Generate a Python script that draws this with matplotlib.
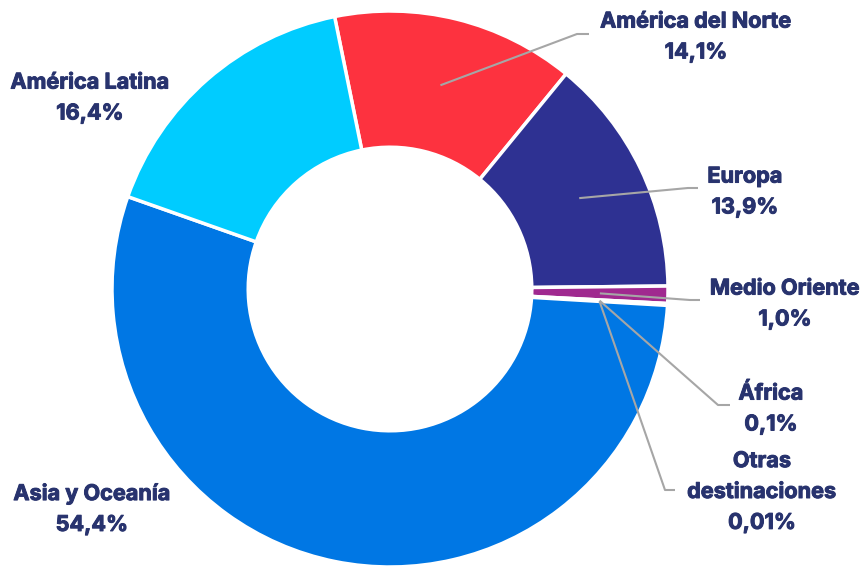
import matplotlib
matplotlib.use("Agg")
import matplotlib.pyplot as plt
import matplotlib.patheffects as pe
import numpy as np

# Data (clockwise order starting at the América Latina / América del Norte boundary)
categories = ["América del Norte", "Europa", "Medio Oriente", "África",
              "Otras\ndestinaciones", "Asia y Oceanía", "América Latina"]
values = [14.1, 13.9, 1.0, 0.1, 0.01, 54.4, 16.4]
value_labels = ["14,1%", "13,9%", "1,0%", "0,1%", "0,01%", "54,4%", "16,4%"]
colors = ["#FD323F", "#2E3192", "#A0298F", "#7A3C9A", "#5A50A0", "#0077E4", "#00CCFF"]

W, H = 865, 567
fig = plt.figure(figsize=(W / 100, H / 100), dpi=100)
ax = fig.add_axes([0, 0, 1, 1])

cx, cy = 390, H - 289
R = 278
ring = 0.49

wedges, _ = ax.pie(values, colors=colors, startangle=101.5, counterclock=False,
                   radius=R, center=(cx, cy),
                   wedgeprops=dict(width=R * ring, edgecolor="white", linewidth=2.5))
ax.set_xlim(0, W)
ax.set_ylim(0, H)
ax.set_aspect("equal")
ax.axis("off")

txt_color = "#28336E"
line_color = "#A6A6A6"
font = dict(family=["Inter", "DejaVu Sans"], fontweight="bold", fontsize=15.6, color=txt_color,
            path_effects=[pe.withStroke(linewidth=0.7, foreground=txt_color)])

# label centers (pixel coords, y from top) and leader bend/end points
label_pos = {
    "América del Norte": (696, 37, (577, 34), (589, 34)),
    "Europa": (745, 192, (688, 188), (698, 188)),
    "Medio Oriente": (785, 304, (690, 300), (700, 300)),
    "África": (771, 409, (718, 405), (730, 405)),
    "Otras\ndestinaciones": (762, 492, (665, 490), (675, 490)),
    "Asia y Oceanía": (92, 509, None, None),
    "América Latina": (90, 98, None, None),
}

r_mid = R * (1 - ring / 2)
for w, cat, vl in zip(wedges, categories, value_labels):
    lx, ly, bend, end = label_pos[cat]
    ax.text(lx, H - ly, cat + "\n" + vl, ha="center", va="center",
            multialignment="center", linespacing=1.68, **font)
    if bend is not None:
        ang = np.deg2rad((w.theta1 + w.theta2) / 2)
        sx = cx + r_mid * np.cos(ang)
        sy = cy + r_mid * np.sin(ang)
        ax.plot([sx, bend[0], end[0]], [sy, H - bend[1], H - end[1]],
                color=line_color, lw=1.5, solid_capstyle="butt", zorder=5)

fig.savefig("out.png", dpi=100)
